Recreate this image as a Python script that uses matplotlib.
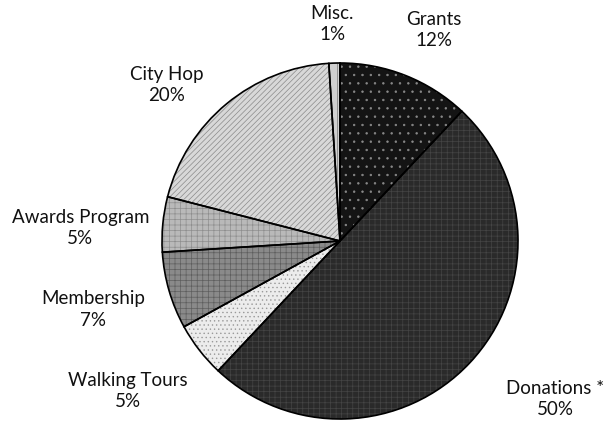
import matplotlib
matplotlib.use("Agg")
import matplotlib.pyplot as plt
import numpy as np

categories = ["Grants", "Donations *", "Walking Tours", "Membership",
              "Awards Program", "City Hop", "Misc."]
values = [12, 50, 5, 7, 5, 20, 1]

face_colors = ["#141414", "#2a2a2a", "#ececec", "#8a8a8a", "#b9b9b9", "#d8d8d8", "#d0d0d0"]
hatch_colors = ["#8a8a8a", "#454545", "#9a9a9a", "#5e5e5e", "#8e8e8e", "#8a8a8a", "#777777"]
hatches = ["..", "+++", "....", "+++", "+++", "//////", "||"]
label_dist = [1.30, 1.50, 1.46, 1.44, 1.46, 1.31, 1.22]
label_dang = [-2.4, 6.9, -2.6, -0.7, 2.5, 8.4, 0.2]

plt.rcParams['font.family'] = ['Lato', 'DejaVu Sans']
plt.rcParams['hatch.linewidth'] = 0.5

W, H = 608, 422
fig = plt.figure(figsize=(W / 100, H / 100), dpi=100)
ax = fig.add_axes([0, 0, 1, 1])

cx, cy, R = 340, 241, 178

wedges, _ = ax.pie(values, startangle=90, counterclock=False, radius=1,
                   colors=face_colors, wedgeprops=dict(linewidth=0))
for w, hc, h in zip(wedges, hatch_colors, hatches):
    w.set_hatch(h)
    w.set_edgecolor(hc)
    w.set_linewidth(0)

ax.pie(values, startangle=90, counterclock=False, radius=1,
       colors=["none"] * len(values),
       wedgeprops=dict(linewidth=1.2, edgecolor="black", facecolor="none"))

for w, name, v, d, da in zip(wedges, categories, values, label_dist, label_dang):
    ang = np.deg2rad((w.theta1 + w.theta2) / 2 + da)
    x, y = d * np.cos(ang), d * np.sin(ang)
    ax.text(x, y, f"{name}\n{v}%", ha="center", va="center",
            fontsize=13.5, color="#111111", linespacing=1.3)

ax.set_aspect("auto")
ax.set_xlim(-cx / R, (W - cx) / R)
ax.set_ylim(-(H - cy) / R, cy / R)
ax.axis("off")

fig.savefig("out.png", dpi=100)
